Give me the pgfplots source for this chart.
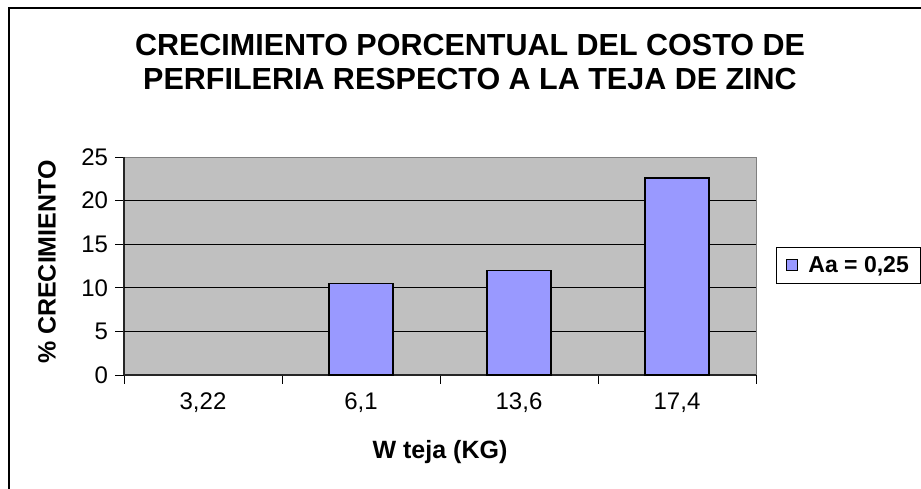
\documentclass[border=0pt]{standalone}
\usepackage{fontspec}
\setmainfont{Liberation Sans}
\usepackage{pgfplots}
\pgfplotsset{compat=1.18}
\definecolor{plotgray}{HTML}{C0C0C0}
\definecolor{bordergray}{HTML}{808080}
\definecolor{barblue}{HTML}{9999FF}
\begin{document}
\begin{tikzpicture}[x=1pt,y=1pt]
\draw[line width=1.3pt] (9,-520) -- (9,-8) -- (960,-8);
\node[anchor=base, font=\bfseries\fontsize{30.5}{36}\selectfont, inner sep=0pt] at (470,-56) {CRECIMIENTO PORCENTUAL DEL COSTO DE};
\node[anchor=base, font=\bfseries\fontsize{30.5}{36}\selectfont, inner sep=0pt] at (470,-90) {PERFILERIA RESPECTO A LA TEJA DE ZINC};
\begin{axis}[
  at={(124pt,-375pt)}, anchor=south west,
  width=632pt, height=218pt, scale only axis,
  xmin=-0.5, xmax=3.5, ymin=0, ymax=25,
  axis background/.style={fill=plotgray, draw=bordergray, line width=1pt},
  axis x line*=bottom, axis y line*=left,
  axis line style={line width=1.6pt, black!85, -},
  ytick={0,5,...,25},
  extra y ticks={5,10,15,20},
  extra y tick labels={},
  extra y tick style={grid=major, major tick length=0pt},
  major grid style={black, line width=0.9pt},
  xtick={-0.5,0.5,1.5,2.5,3.5},
  xticklabels={{3,22},{6,1},{13,6},{17,4}},
  x tick label as interval=true,
  tick align=outside,
  major tick length=8.5pt,
  tick style={black, line width=1pt},
  /pgf/number format/assume math mode=true,
  ticklabel style={font=\fontsize{24}{28}\selectfont},
  xticklabel style={yshift=-6pt},
  yticklabel style={xshift=-4pt},
  xlabel={W teja (KG)},
  ylabel={\% CRECIMIENTO},
  xlabel style={at={(axis description cs:0.5,-0.385)}, anchor=base, font=\bfseries\fontsize{25}{29}\selectfont, inner sep=0pt},
  ylabel style={at={(axis description cs:-0.1218,0.518)}, anchor=center, font=\bfseries\fontsize{25}{29}\selectfont, inner sep=0pt},
  legend style={at={(1.0316,0.587)}, anchor=north west, draw=black, line width=1pt, fill=white,
    font=\bfseries\fontsize{23}{27}\selectfont, inner xsep=10pt, inner ysep=7pt},
  legend cell align=left,
  legend image code/.code={\draw[#1, line width=1pt] (0pt,-5.5pt) rectangle (11pt,5.5pt);},
]
% the bar at 3,22 has the value 0
\addplot[ybar, bar width=0.405, fill=barblue, draw=black, line width=1.2pt]
  coordinates {(1,10.5) (2,12.0) (3,22.6)};
\addlegendentry{\hspace{8pt}Aa = 0,25\hspace{30pt}}
\end{axis}
\pgfresetboundingbox
\path[use as bounding box] (0,0) rectangle (921,-489);
\end{tikzpicture}
\end{document}
